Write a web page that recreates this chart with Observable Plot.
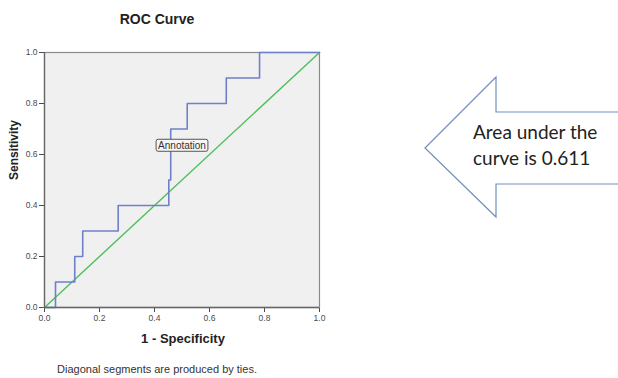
<!DOCTYPE html>
<html>
<head>
<meta charset="utf-8">
<script src="https://cdn.jsdelivr.net/npm/d3@7"></script>
<script src="https://cdn.jsdelivr.net/npm/@observablehq/plot@0.6"></script>
<style>
  html, body { margin: 0; padding: 0; background: #fff; }
  #chart { width: 618px; height: 378px; overflow: hidden; }
</style>
</head>
<body>
<div id="chart"></div>
<script>
// ROC curve steps
const fpr = [0, 0.04, 0.04, 0.11, 0.11, 0.139, 0.139, 0.268, 0.268, 0.452, 0.452, 0.459, 0.459, 0.519, 0.519, 0.661, 0.661, 0.782, 0.782, 1.0];
const tpr = [0, 0, 0.1, 0.1, 0.2, 0.2, 0.3, 0.3, 0.4, 0.4, 0.5, 0.5, 0.7, 0.7, 0.8, 0.8, 0.9, 0.9, 1.0, 1.0];
const refX = [0, 1];
const refY = [0, 1];
const ticks = [0, 0.2, 0.4, 0.6, 0.8, 1.0];
const annotation = [{x: 0.5, y: 0.635, label: "Annotation"}];
const auc = 0.611;
const title = "ROC Curve";
const xLabel = "1 - Specificity";
const yLabel = "Sensitivity";
const caption = "Diagonal segments are produced by ties.";

const curve = fpr.map((x, i) => ({x, y: tpr[i]}));
const ref = refX.map((x, i) => ({x, y: refY[i]}));
const font = "'Liberation Sans', Arial, sans-serif";

const plot = Plot.plot({
  width: 618,
  height: 378,
  marginLeft: 44,
  marginRight: 299,
  marginTop: 52,
  marginBottom: 71,
  style: {fontFamily: font, fontSize: "8.5px", color: "#4a4a4a", background: "#fff"},
  x: {domain: [0, 1], ticks, tickFormat: d3.format(".1f"), tickSize: 5, tickPadding: 2, label: null},
  y: {domain: [0, 1], ticks, tickFormat: d3.format(".1f"), tickSize: 5, tickPadding: 2, label: null},
  marks: [
    Plot.frame({fill: "#f0f0f0", stroke: "#8a8a8a", strokeWidth: 1.2}),
    Plot.line(ref, {x: "x", y: "y", stroke: "#4cbf5a", strokeWidth: 1.4}),
    Plot.line(curve, {x: "x", y: "y", stroke: "#6f80c8", strokeWidth: 1.6}),
    Plot.ruleX([0], {stroke: "#666", strokeWidth: 1.3}),
    Plot.ruleY([0], {stroke: "#666", strokeWidth: 1.3}),
    Plot.text(annotation, {x: "x", y: "y", text: "label", fontSize: 10, fill: "#333", fontFamily: font}),
    Plot.text([title], {frameAnchor: "top", lineAnchor: "middle", dx: -25, dy: -33, fontSize: 14, fontWeight: "bold", fill: "#222", fontFamily: font}),
    Plot.text([xLabel], {frameAnchor: "bottom", lineAnchor: "middle", dx: 1, dy: 31, fontSize: 13, fontWeight: "bold", fill: "#222", fontFamily: font}),
    Plot.text([yLabel], {frameAnchor: "left", lineAnchor: "middle", dx: -30, dy: 0, rotate: -90, fontSize: 12, fontWeight: "bold", fill: "#222", fontFamily: font}),
    Plot.text([caption], {frameAnchor: "bottom", lineAnchor: "middle", dx: -25, dy: 62, fontSize: 11, fill: "#333", fontFamily: font})
  ]
});
document.getElementById("chart").appendChild(plot);

// Box around the annotation label
const svg = d3.select(plot);
svg.selectAll("text").each(function() {
  if (this.textContent === "Annotation") {
    const b = this.getBBox();
    const tr = this.getAttribute("transform");
    const r = d3.select(this.parentNode).insert("rect", () => this)
      .attr("x", b.x - 2).attr("y", b.y - 0.5)
      .attr("width", b.width + 4).attr("height", b.height + 1)
      .attr("rx", 2)
      .attr("fill", "#f6f6f6").attr("stroke", "#555").attr("stroke-width", 1);
    if (tr) r.attr("transform", tr);
  }
});

// Block arrow callout
const g = svg.append("g");
g.append("path")
  .attr("d", "M425,148 L496,77 L496,112 L622,112 L622,184 L496,184 L496,217 Z")
  .attr("fill", "#fff").attr("stroke", "#6f8fbf").attr("stroke-width", 1.2);
const t = g.append("text")
  .attr("text-anchor", "start")
  .attr("font-family", "Lato, 'Open Sans', sans-serif")
  .attr("font-size", 19).attr("fill", "#222");
t.append("tspan").attr("x", 473).attr("y", 139).text("Area under the");
t.append("tspan").attr("x", 473).attr("y", 165).text(`curve is ${auc.toFixed(3)}`);
</script>
</body>
</html>
